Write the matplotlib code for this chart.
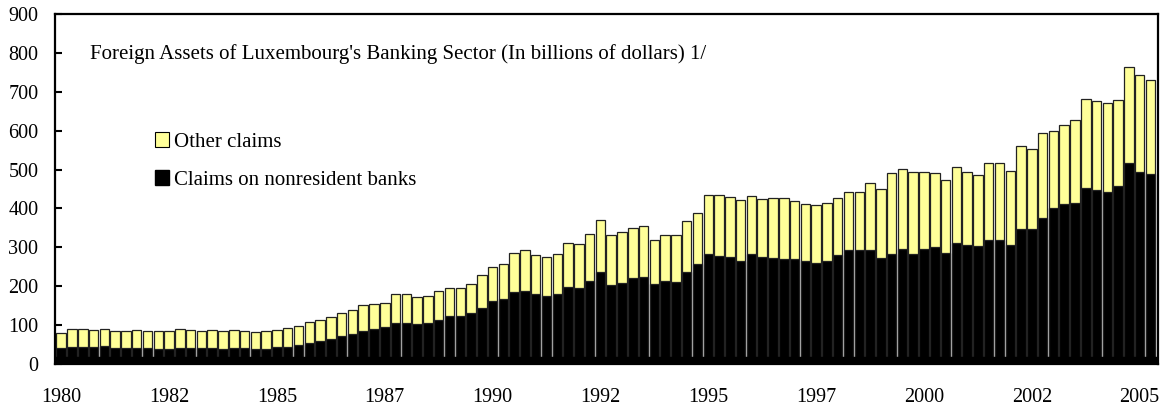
import matplotlib
matplotlib.use("Agg")
import matplotlib.pyplot as plt
import matplotlib.patches as mpatches
import numpy as np

plt.rcParams['font.family'] = ['Liberation Serif', 'DejaVu Serif']

# quarterly observations, 1980Q1 - 2005Q2, billions of US dollars
quarters = [f"{y}Q{q}" for y in range(1980, 2006) for q in range(1, 5)][:102]

total_assets = [
    79, 89, 90, 88, 91, 84, 85, 88, 84, 85,
    84, 90, 88, 86, 88, 85, 88, 85, 82, 86,
    88, 92, 98, 107, 112, 122, 130, 140, 151, 154,
    157, 181, 179, 173, 175, 188, 195, 196, 207, 228,
    249, 256, 286, 294, 281, 275, 283, 312, 308, 334,
    371, 331, 339, 350, 355, 319, 333, 331, 368, 389,
    435, 435, 430, 422, 432, 425, 426, 427, 419, 412,
    409, 413, 427, 443, 443, 466, 449, 491, 502, 494,
    494, 492, 474, 507, 495, 486, 516, 516, 496, 560,
    552, 593, 598, 615, 627, 681, 677, 671, 680, 764,
    743, 729,
]

nonresident_banks = [
    40, 44, 43, 43, 46, 42, 41, 41, 40, 39,
    39, 42, 41, 41, 42, 39, 41, 40, 39, 39,
    43, 45, 49, 55, 59, 64, 72, 78, 84, 89,
    94, 105, 105, 103, 106, 114, 124, 123, 131, 144,
    162, 166, 185, 189, 180, 176, 179, 197, 196, 214,
    236, 203, 208, 220, 223, 205, 214, 210, 236, 256,
    284, 279, 274, 266, 282, 274, 273, 270, 269, 265,
    261, 264, 280, 294, 294, 293, 272, 284, 297, 284,
    297, 301, 285, 310, 306, 304, 320, 320, 307, 346,
    346, 375, 401, 411, 414, 453, 448, 443, 457, 516,
    495, 488,
]

tick_years = ['1980', '1982', '1985', '1987', '1990', '1992',
              '1995', '1997', '2000', '2002', '2005']

yellow = '#FFFF99'
x = np.arange(len(quarters))

fig = plt.figure(figsize=(11.67, 4.08), dpi=100)
ax = fig.add_axes([0.0471, 0.1078, 0.9452, 0.8579])

# other claims show as the part of the total above the bank claims
ax.bar(x, total_assets, width=0.88, color=yellow, edgecolor='#222222', linewidth=0.9)
ax.bar(x, nonresident_banks, width=0.88, color='black', edgecolor='#222222', linewidth=0.9)
ax.axhspan(0, 19, color='black', zorder=3)

ax.set_xlim(-0.58, 101.7)
ax.set_ylim(0, 900)
ax.set_yticks(range(0, 901, 100))
ax.set_xticks(x[::10])
ax.set_xticklabels(tick_years)
ax.tick_params(axis='y', direction='in', length=5, width=1.5, pad=12, labelsize=14.5)
ax.tick_params(axis='x', length=0, pad=17, labelsize=14.5)
for s in ax.spines.values():
    s.set_linewidth(1.6)

ax.text(0.0317, 0.886, "Foreign Assets of Luxembourg's Banking Sector (In billions of dollars) 1/",
        transform=ax.transAxes, fontsize=15, va='center', ha='left')

handles = [mpatches.Patch(facecolor=yellow, edgecolor='black', linewidth=0.8, label='Other claims'),
           mpatches.Patch(facecolor='black', edgecolor='black', label='Claims on nonresident banks')]
ax.legend(handles=handles, loc='upper left', bbox_to_anchor=(0.083, 0.686), frameon=False,
          fontsize=15, handlelength=0.7, handleheight=0.7, handletextpad=0.2,
          labelspacing=0.88, borderaxespad=0)

fig.savefig('out.png', dpi=100)
